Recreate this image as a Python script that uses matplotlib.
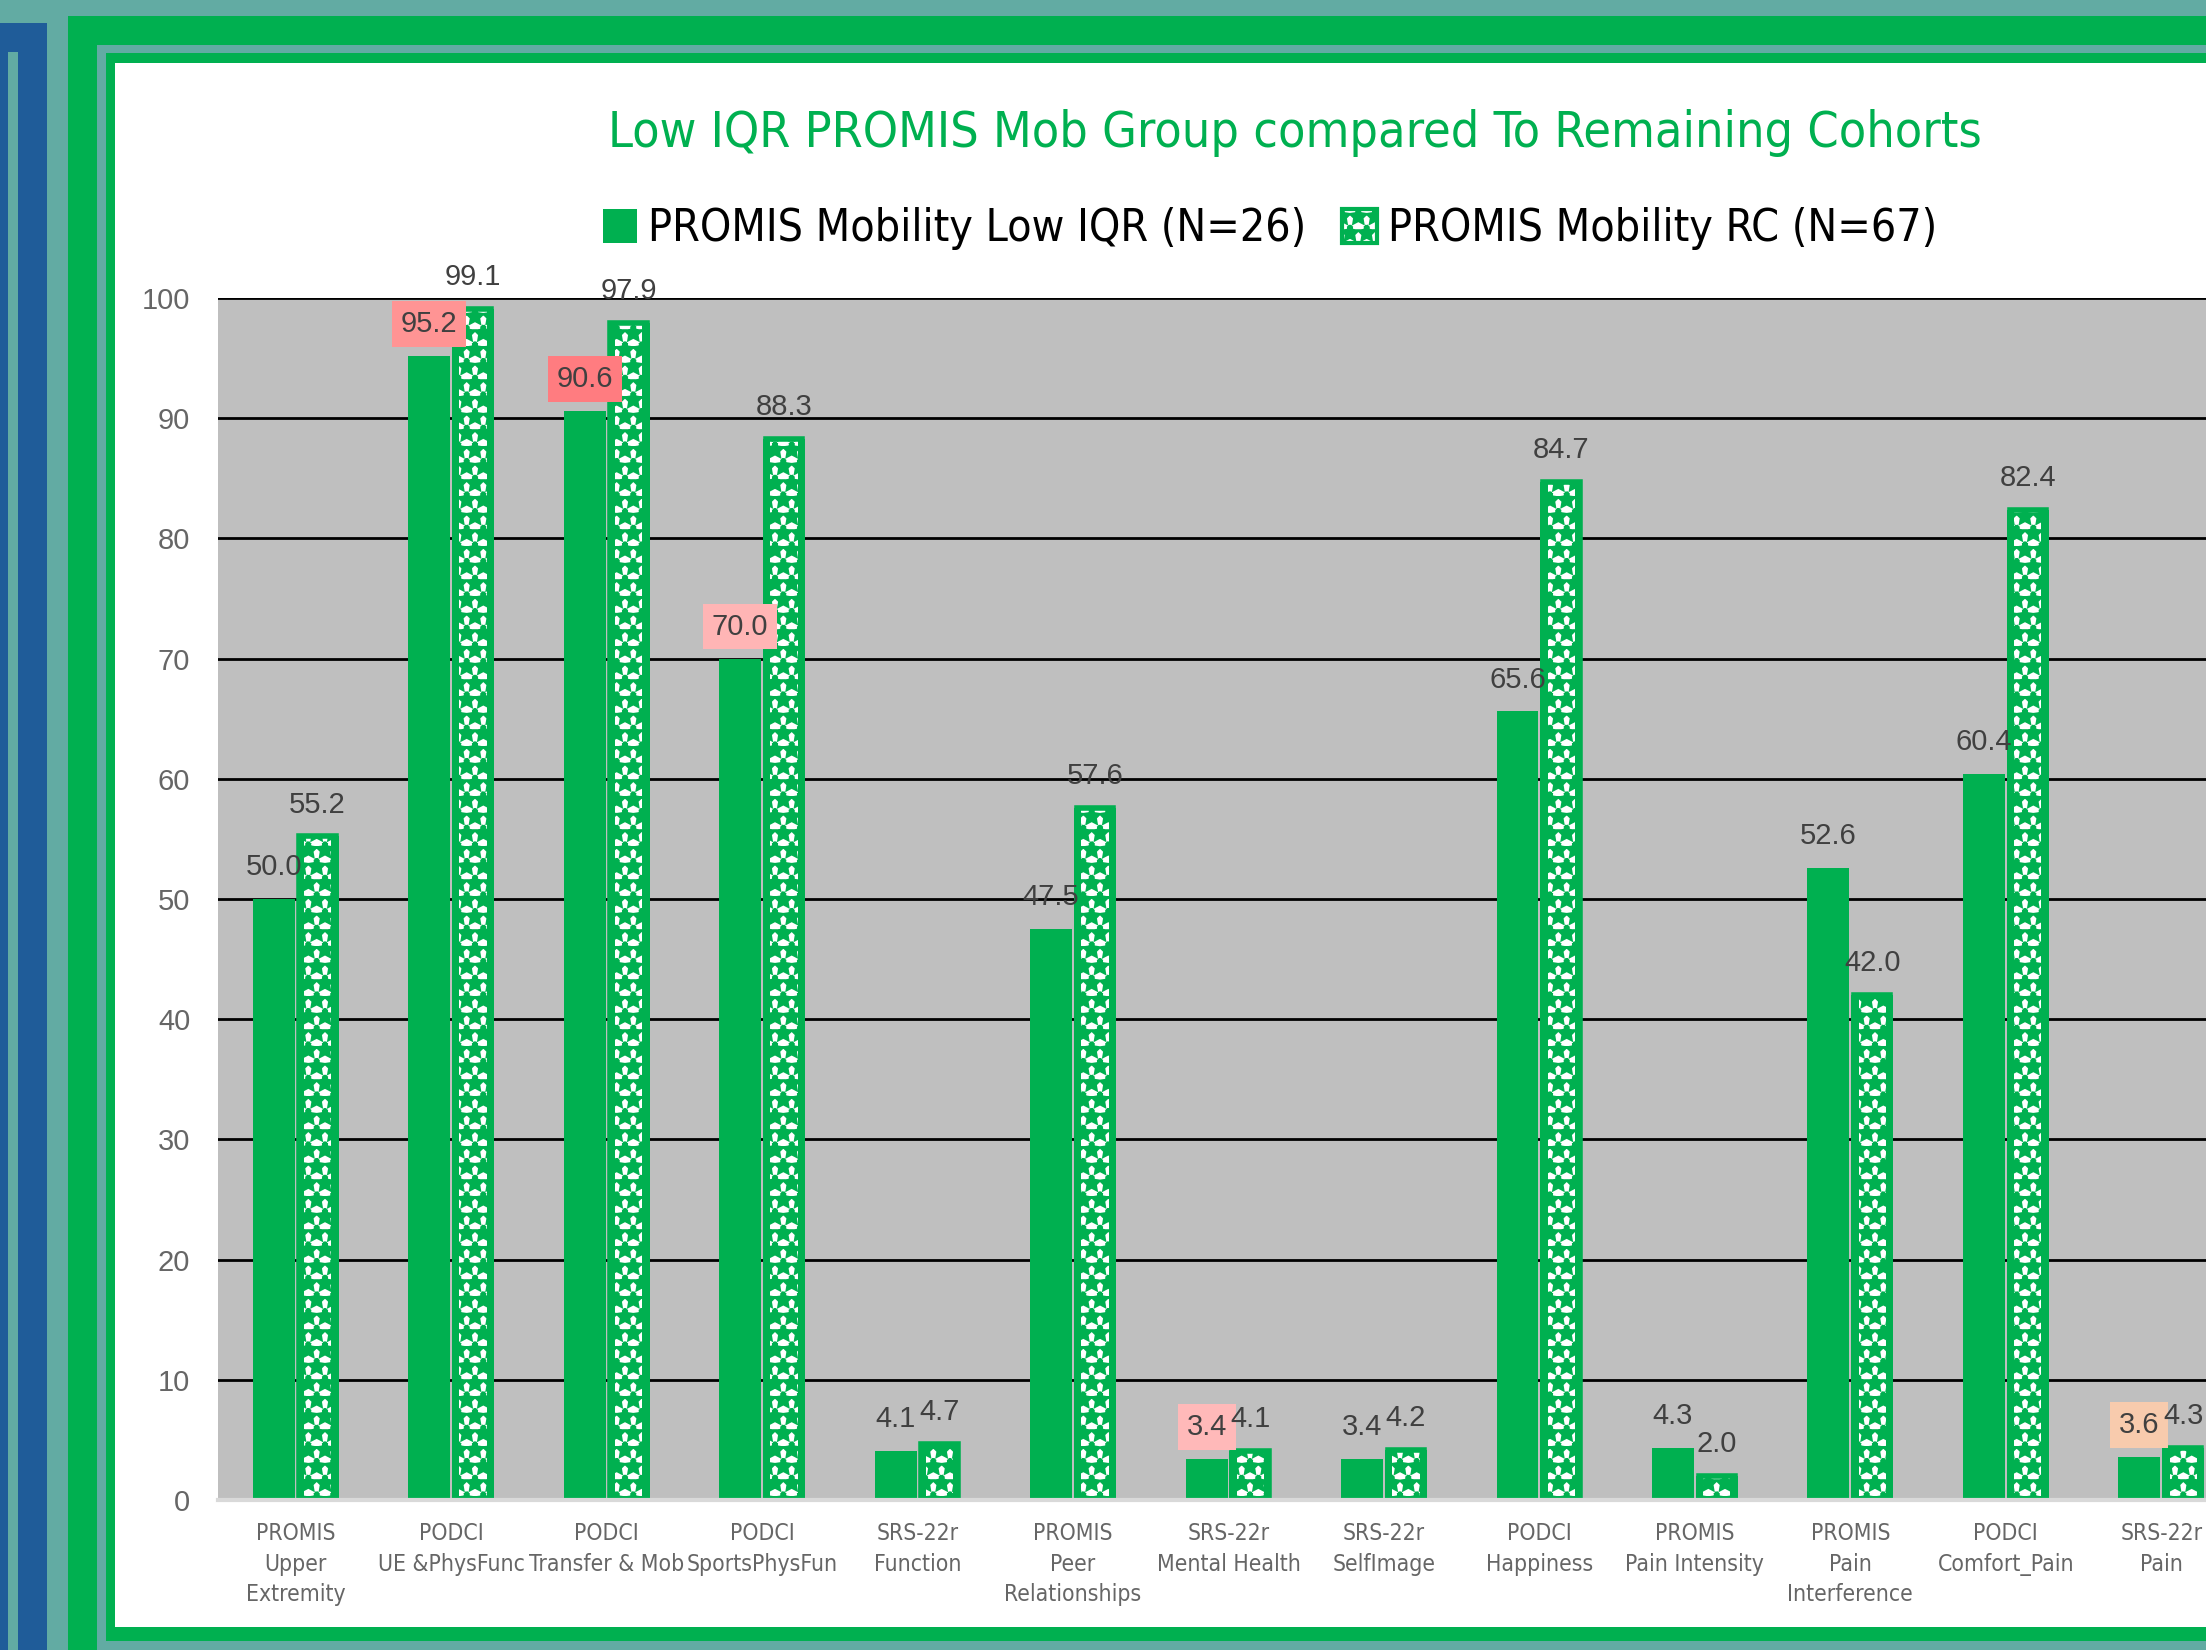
import matplotlib.pyplot as plt
import numpy as np
from matplotlib.patches import Rectangle, Patch

categories = ["PROMIS\nUpper\nExtremity", "PODCI\nUE &PhysFunc", "PODCI\nTransfer & Mob",
              "PODCI\nSportsPhysFun", "SRS-22r\nFunction", "PROMIS\nPeer\nRelationships",
              "SRS-22r\nMental Health", "SRS-22r\nSelfImage", "PODCI\nHappiness",
              "PROMIS\nPain Intensity", "PROMIS\nPain\nInterference", "PODCI\nComfort_Pain",
              "SRS-22r\nPain"]
low_iqr = [50.0, 95.2, 90.6, 70.0, 4.1, 47.5, 3.4, 3.4, 65.6, 4.3, 52.6, 60.4, 3.6]
rc = [55.2, 99.1, 97.9, 88.3, 4.7, 57.6, 4.1, 4.2, 84.7, 2.0, 42.0, 82.4, 4.3]
# label background colours for the highlighted Low IQR values
highlight = {1: "#FF9494", 2: "#FF7C80", 3: "#FFB5B5", 6: "#FFB9B9", 12: "#F8CBAD"}

GREEN = "#00B050"
TEXTURE = "#62ABA3"
W, H = 2206, 1650
COND = dict(fontfamily="DejaVu Sans", fontstretch="condensed")

plt.rcParams["font.family"] = ["Liberation Sans", "DejaVu Sans"]
plt.rcParams["hatch.linewidth"] = 3.5

fig = plt.figure(figsize=(W / 100, H / 100), dpi=100)
fig.patch.set_facecolor(TEXTURE)


def frame(x0, y0, x1, y1, color, z):
    fig.patches.append(Rectangle((x0 / W, 1 - y1 / H), (x1 - x0) / W, (y1 - y0) / H,
                                 transform=fig.transFigure, facecolor=color,
                                 edgecolor="none", zorder=z))


# decorative frames
frame(0, 23, 47, H + 10, "#1F5C99", -10)
frame(8, 52, 18, H + 10, TEXTURE, -9)
frame(68, 16, W + 10, H + 10, GREEN, -8)
frame(97, 45, W + 10, H + 10, TEXTURE, -7)
frame(106, 53, W + 10, 1641, GREEN, -6)
frame(115, 63, W + 10, 1627, "white", -5)

ax = fig.add_axes([218 / W, 150 / H, (2239 - 218) / W, 1202 / H])
ax.set_facecolor("#BFBFBF")

x = np.arange(len(categories))
w = 0.27
gap = 0.006
ax.bar(x - w / 2 - gap, low_iqr, w, color=GREEN, zorder=3)
ax.bar(x + w / 2 + gap, rc, w, color=GREEN, zorder=3)
ax.bar(x + w / 2 + gap, rc, w * 0.65, color="white", edgecolor=GREEN, hatch="*",
       linewidth=0, zorder=4)
# green top rim of the patterned bars (kept inside the bar outline)
ax.bar(x + w / 2 + gap, rc, w - 0.036, fill=False, edgecolor=GREEN, linewidth=4, zorder=5)

for i, v in enumerate(low_iqr):
    box = None
    if i in highlight:
        box = dict(boxstyle="square,pad=0.3", facecolor=highlight[i], edgecolor="none")
    ax.annotate(f"{v:.1f}", (x[i] - w / 2 - gap, v), xytext=(0, 23),
                textcoords="offset points", ha="center", va="center",
                fontsize=21, color="#404040", bbox=box, zorder=6)
for i, v in enumerate(rc):
    ax.annotate(f"{v:.1f}", (x[i] + w / 2 + gap, v), xytext=(0, 23),
                textcoords="offset points", ha="center", va="center",
                fontsize=21, color="#404040", zorder=6)

ax.set_xlim(-0.5, len(categories) - 0.5)
ax.set_ylim(0, 100)
ax.set_yticks(range(0, 101, 10))
ax.yaxis.grid(True, color="black", linewidth=2)
ax.set_axisbelow(True)
for s in ["top", "left", "right"]:
    ax.spines[s].set_visible(False)
ax.spines["bottom"].set_color("#D9D9D9")
ax.spines["bottom"].set_linewidth(3)
ax.spines["bottom"].set_zorder(5.5)

ax.set_xticks(x)
ax.set_xticklabels(categories, linespacing=1.42, **COND)
ax.tick_params(axis="y", length=0, pad=20, labelsize=21, labelcolor="#666666")
ax.tick_params(axis="x", length=0, pad=16, labelsize=16.5, labelcolor="#666666")

handles = [Patch(facecolor=GREEN, edgecolor="none"),
           Patch(facecolor="white", edgecolor=GREEN, hatch="*", linewidth=3)]
fig.legend(handles, ["PROMIS Mobility Low IQR (N=26)", "PROMIS Mobility RC (N=67)"],
           loc="center", bbox_to_anchor=(1270 / W, 1 - 229 / H), ncol=2, frameon=False,
           prop={"family": "DejaVu Sans", "stretch": "condensed", "size": 32},
           handlelength=0.77, handleheight=0.77, handletextpad=0.25, columnspacing=0.8)

fig.text(1295 / W, 1 - 133 / H, "Low IQR PROMIS Mob Group compared To Remaining Cohorts",
         ha="center", va="center", color=GREEN, fontsize=36, **COND)

fig.savefig("out.png", dpi=100, facecolor=fig.get_facecolor())
